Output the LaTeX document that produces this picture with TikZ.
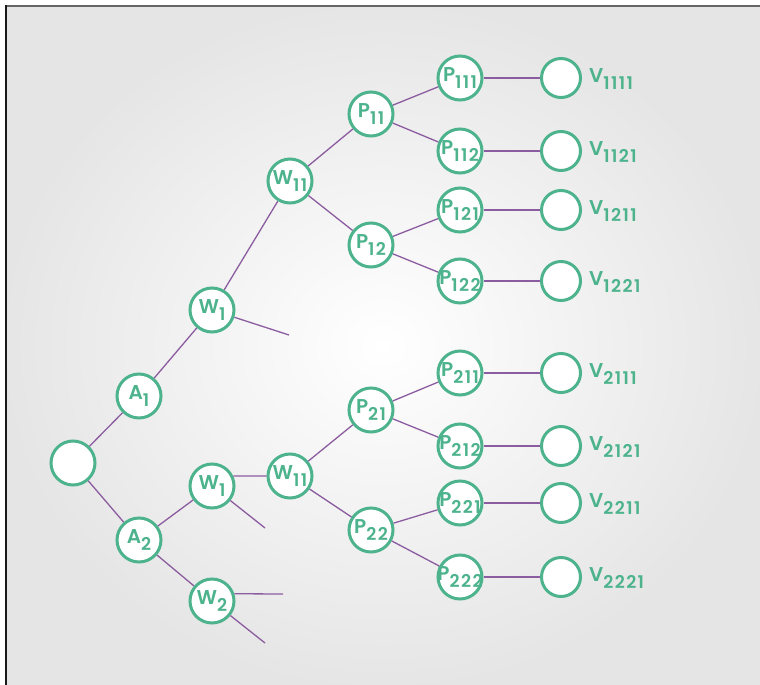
\documentclass[tikz,border=0pt]{standalone}
\usepackage{fontspec}
\setmainfont{Poppins}[UprightFont=* SemiBold]
\usetikzlibrary{shadings}
\tikzset{>=stealth}
\definecolor{treegreen}{HTML}{4DB38D}
\definecolor{treepurple}{HTML}{8C5CA0}
\tikzset{
  dot/.style={circle, draw=treegreen, line width=3pt, fill=white, minimum size=44pt,
    inner sep=0pt, text=treegreen, font=\fontsize{20}{20}\selectfont},
  leaf/.style={dot, minimum size=39pt},
  branch/.style={treepurple, line width=1.3pt},
  stem/.style={treepurple, line width=2.4pt},
  vlabel/.style={text=treegreen, anchor=west, inner sep=0pt, font=\fontsize{20}{20}\selectfont}
}
\newcommand\sublab[2]{#1\raisebox{-0.55ex}{\fontsize{17.5}{17.5}\selectfont\addfontfeatures{LetterSpace=8}#2}}
\newcommand\inlab[2]{\makebox[0pt]{\sublab{#1}{#2}}}

\begin{document}
\begin{tikzpicture}[x=1pt,y=-1pt]
\useasboundingbox (0,0) rectangle (760,685);
\shade[inner color=white, outer color=black!10] (6,6) rectangle (760,685);
\draw[black!60, line width=2pt] (5,6) -- (760,6);
\draw[black!90, line width=1.8pt] (6,5) -- (6,685);

\node[dot] (root) at (73,463) {};
\node[dot] (a1) at (139,396) {\inlab{A}{1}};
\node[dot] (a2) at (139,540) {\inlab{A}{2}};
\node[dot] (w1) at (212,310) {\inlab{W}{1}};
\node[dot] (w1b) at (212,486) {\inlab{W}{1}};
\node[dot] (w2) at (212,601) {\inlab{W}{2}};
\node[dot] (w11) at (290,181) {\inlab{W}{11}};
\node[dot] (w11b) at (290,476) {\inlab{W}{11}};
\node[dot] (p11) at (371,114) {\inlab{P}{11}};
\node[dot] (p12) at (371,245) {\inlab{P}{12}};
\node[dot] (p21) at (371,410) {\inlab{P}{21}};
\node[dot] (p22) at (371,530) {\inlab{P}{22}};

\foreach \n/\y in {111/78,112/151,121/210,122/281,211/373,212/446,221/503,222/577}{
  \node[dot] (p\n) at (460,\y) {\inlab{P}{\n}};
  \node[leaf] (v\n) at (561,\y) {};
  \node[vlabel] (t\n) at (589,\y+1) {\sublab{V}{\n1}};
  \draw[stem] (p\n) -- (v\n);
}

\foreach \s/\e in {root/a1,root/a2,a1/w1,w1/w11,w11/p11,w11/p12,a2/w1b,a2/w2,
    w11b/p21,w11b/p22,p11/p111,p11/p112,p12/p121,p12/p122,p21/p211,p21/p212,p22/p221,p22/p222}
  \draw[branch] (\s) -- (\e);
\draw[branch] (w1b.25) -- (w11b);

\coordinate (e1) at (289,335);
\coordinate (e2) at (265,528);
\coordinate (e3) at (283,594);
\coordinate (e4) at (265,643);
\draw[branch] (w1) -- (e1);
\draw[branch] (w1b) -- (e2);
\draw[branch] (w2.18) -- (e3);
\draw[branch] (w2) -- (e4);
\end{tikzpicture}
\end{document}
